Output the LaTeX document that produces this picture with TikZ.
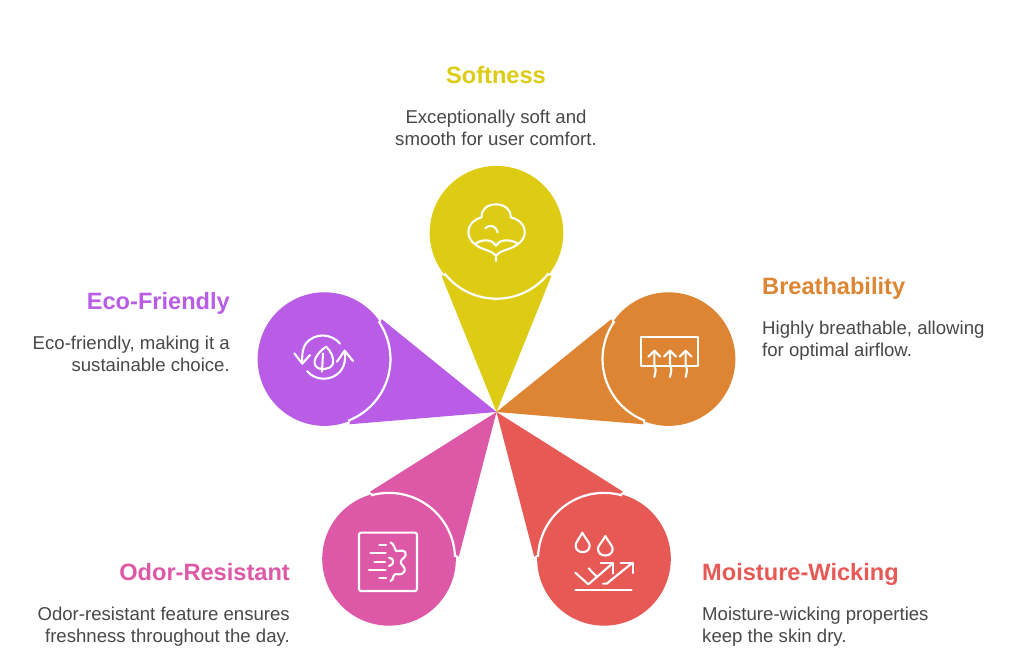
\documentclass[tikz,border=0pt]{standalone}
\usepackage{fontspec}
\setmainfont{Liberation Sans}
\definecolor{cy}{HTML}{DDCB14}
\definecolor{co}{HTML}{DD8533}
\definecolor{cr}{HTML}{E65955}
\definecolor{cp}{HTML}{DE58A8}
\definecolor{cv}{HTML}{B95CE6}
\definecolor{bodytxt}{HTML}{484848}
\tikzset{
  ttl/.style={inner sep=0pt,font=\fontsize{23.6}{26}\selectfont\bfseries},
  bdy/.style={inner sep=0pt,text=bodytxt,font=\fontsize{18.6}{22.5}\selectfont},
  ic/.style={draw=white,line width=2.1pt,line cap=round,line join=round,fill=none},
}
\newcommand{\petal}[3]{%
  \begin{scope}[shift={(496.5,412)},rotate=#1]
    \fill[#2] (0,0) -- (#3+43,-55) -- (#3+43,55) -- cycle;
    \fill[#2] (#3,0) circle[radius=66.8];
    \draw[white,line width=2.2pt] (#3,0) ++(-52:66) arc[start angle=-52,end angle=52,radius=66];
  \end{scope}}
\begin{document}
\begin{tikzpicture}[x=1pt,y=-1pt]
\useasboundingbox (0,0) rectangle (1024,662);
\fill[white] (0,0) rectangle (1024,662);
\petal{-90}{cy}{-179.3}
\petal{-162.9}{co}{-180}
\petal{-233.8}{cr}{-182}
\petal{-306.2}{cp}{-182}
\petal{-17.1}{cv}{-180}

% cotton icon
\begin{scope}[shift={(420,160)},scale=1/3]
\draw[ic] (228,287) .. controls (215,270) and (190,272) .. (168,255) .. controls (135,235) and (135,185) .. (185,172) .. controls (180,120) and (275,120) .. (272,172) .. controls (325,185) and (325,235) .. (290,255) .. controls (265,272) and (240,270) .. (228,287) -- (228,303);
\draw[ic] (168,250) .. controls (190,235) and (220,240) .. (228,257) .. controls (236,240) and (265,235) .. (293,250);
\draw[ic] (196,204) .. controls (210,192) and (230,198) .. (233,217);
\end{scope}
% airflow icon
\begin{scope}[shift={(595,285)},scale=1/3]
\draw[ic] (137,156) rectangle (310,242);
\foreach \x in {178,225,272}{
  \draw[ic] (\x-18,215) -- (\x,197) -- (\x+18,215);
  \draw[ic] (\x,197) -- (\x,235) .. controls (\x,248) and (\x+6,250) .. (\x+3,262) -- (\x,276);
}
\end{scope}
% moisture icon
\begin{scope}[shift={(530,485)},scale=1/3]
\draw[ic] (157,143) .. controls (145,165) and (137,172) .. (137,182) .. controls (137,208) and (179,208) .. (179,182) .. controls (179,172) and (169,165) .. (157,143) -- cycle;
\draw[ic] (226,153) .. controls (214,175) and (204,182) .. (204,192) .. controls (204,218) and (248,218) .. (248,192) .. controls (248,182) and (238,175) .. (226,153) -- cycle;
\draw[ic] (136,263) -- (175,298) -- (248,235);
\draw[ic] (212,234) -- (248,234) -- (248,266);
\draw[ic] (176,250) -- (200,275);
\draw[ic] (219,296) -- (230,296) -- (308,233);
\draw[ic] (272,233) -- (308,233) -- (308,264);
\draw[ic] (136,315) -- (305,315);
\end{scope}
% odour icon
\begin{scope}[shift={(315,485)},scale=1/3]
\draw[ic,rounded corners=2pt] (132,143) rectangle (306,318);
\draw[ic] (193,180) -- (213,180);
\draw[ic] (166,203) -- (212,203);
\draw[ic] (178,230) -- (210,230);
\draw[ic] (162,256) -- (212,256);
\draw[ic] (193,279) -- (213,279);
\draw[ic] (227,172) .. controls (238,178) and (238,190) .. (243,198) .. controls (255,198) and (275,192) .. (272,210) .. controls (270,220) and (252,225) .. (258,235) .. controls (265,245) and (278,255) .. (262,266) .. controls (250,272) and (240,262) .. (236,272) .. controls (235,280) and (232,285) .. (227,288);
\draw[ic] (222,218) .. controls (238,218) and (240,240) .. (222,243);
\end{scope}
% eco icon
\begin{scope}[shift={(250,285)},scale=1/3]
\draw[ic] (270,176) .. controls (245,145) and (195,142) .. (168,175) .. controls (158,188) and (155,210) .. (157,234);
\draw[ic] (133,205) -- (157,236) -- (180,210);
\draw[ic] (171,258) .. controls (195,288) and (245,290) .. (272,258) .. controls (284,243) and (288,220) .. (284,197);
\draw[ic] (261,230) -- (284,197) -- (309,228);
\draw[ic] (228,185) .. controls (200,205) and (180,235) .. (205,250) .. controls (212,252) and (240,255) .. (247,240) .. controls (256,220) and (240,195) .. (228,185) -- cycle;
\draw[ic] (219,205) -- (216,260);
\end{scope}

\node[ttl,text=cy,anchor=base] (t1) at (496,83) {Softness};
\node[bdy,align=center,anchor=north] (b1) at (496,109.5) {Exceptionally soft and\\smooth for user comfort.};
\node[ttl,text=co,anchor=base west] (t2) at (762,294) {Breathability};
\node[bdy,align=left,anchor=north west] (b2) at (762,320.5) {Highly breathable, allowing\\for optimal airflow.};
\node[ttl,text=cr,anchor=base west] (t3) at (702,580) {Moisture-Wicking};
\node[bdy,align=left,anchor=north west] (b3) at (702,606.5) {Moisture-wicking properties\\keep the skin dry.};
\node[ttl,text=cp,anchor=base east] (t4) at (290,580) {Odor-Resistant};
\node[bdy,align=right,anchor=north east] (b4) at (290,606.5) {Odor-resistant feature ensures\\freshness throughout the day.};
\node[ttl,text=cv,anchor=base east] (t5) at (230,309) {Eco-Friendly};
\node[bdy,align=right,anchor=north east] (b5) at (230,335.5) {Eco-friendly, making it a\\sustainable choice.};
\end{tikzpicture}
\end{document}
